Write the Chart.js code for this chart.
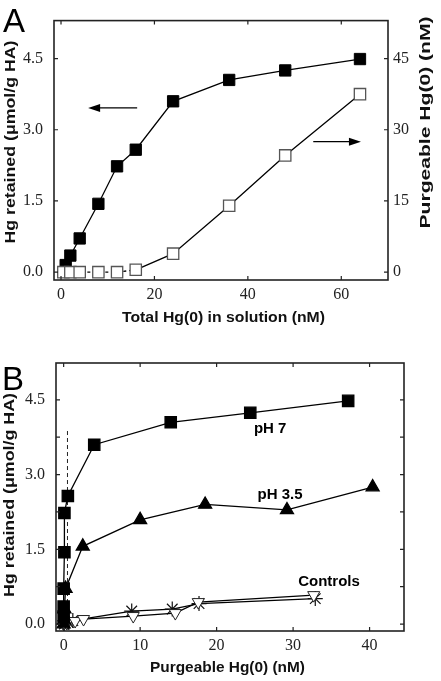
<!DOCTYPE html>
<html>
<head>
<meta charset="utf-8">
<script src="https://cdn.jsdelivr.net/npm/chart.js@4.4.1/dist/chart.umd.min.js"></script>
<style>
  body { margin: 0; background: #fff; }
  .panel { position: absolute; left: 0; width: 441px; }
  #panel-a { top: 0; height: 340px; }
  #panel-b { top: 340px; height: 341px; }
</style>
</head>
<body>
<div class="panel" id="panel-a"><canvas id="chart-a"></canvas></div>
<div class="panel" id="panel-b"><canvas id="chart-b"></canvas></div>
<script>
// --- Panel A data: Hg retained / purgeable vs total Hg(0) ---
const totalHgFilled = [1, 2, 4, 8, 12, 16, 24, 36, 48, 64];
const retainedA = [0.15, 0.35, 0.71, 1.44, 2.23, 2.58, 3.60, 4.05, 4.25, 4.49];
const totalHgOpen = [0.5, 2, 4, 8, 12, 16, 24, 36, 48, 64];
const purgeableA = [0, 0, 0, 0, 0, 0.5, 3.9, 14.0, 24.6, 37.5];

const xTicksA = [0, 20, 40, 60];
const yTicksA = [0, 1.5, 3.0, 4.5];
const y2TicksA = [0, 15, 30, 45];

// --- Panel B data: Hg retained vs purgeable Hg(0) ---
const purgePH7 = [0, 0, 0, 0.1, 0.1, 0.55, 4.0, 14.0, 24.4, 37.2];
const retainPH7 = [0.15, 0.35, 0.71, 1.44, 2.23, 2.57, 3.60, 4.05, 4.24, 4.48];
const purgePH35 = [0, 0.05, 0.1, 0.25, 2.5, 10.0, 18.5, 29.2, 40.4];
const retainPH35 = [0.0, 0.08, 0.3, 0.71, 1.56, 2.09, 2.40, 2.29, 2.75];
const purgeCtrlTri = [0, 0.4, 1.5, 2.6, 9.1, 14.6, 17.6, 32.7];
const retainCtrlTri = [0.0, 0.02, 0.06, 0.1, 0.16, 0.22, 0.44, 0.58];
const purgeCtrlStar = [0.1, 0.6, 1.2, 8.9, 14.2, 17.7, 32.9];
const retainCtrlStar = [0.0, 0.03, 0.07, 0.26, 0.30, 0.41, 0.51];
const detectionX = [0.5, 0.5];
const detectionY = [0, 3.9];

const xTicksB = [0, 10, 20, 30, 40];
const yTicksB = [0, 0.75, 1.5, 2.25, 3.0, 3.75, 4.5];

const pts = (xs, ys) => xs.map((x, i) => ({ x, y: ys[i] }));

const serif = "'Liberation Serif', 'Times New Roman', serif";
const sans = "'Liberation Sans', Arial, sans-serif";

// inward tick marks + frame around the plot area
const frameTicks = {
  id: 'frameTicks',
  afterDatasetsDraw(chart) {
    const { ctx, chartArea: a, scales } = chart;
    const len = 4;
    ctx.save();
    ctx.strokeStyle = '#222';
    ctx.lineWidth = 1.2;
    ctx.beginPath();
    scales.x.ticks.forEach(t => {
      const px = scales.x.getPixelForValue(t.value);
      ctx.moveTo(px, a.bottom); ctx.lineTo(px, a.bottom - len);
      ctx.moveTo(px, a.top); ctx.lineTo(px, a.top + len);
    });
    scales.y.ticks.forEach(t => {
      const py = scales.y.getPixelForValue(t.value);
      ctx.moveTo(a.left, py); ctx.lineTo(a.left + len, py);
      if (!scales.y2) { ctx.moveTo(a.right, py); ctx.lineTo(a.right - len, py); }
    });
    if (scales.y2) {
      scales.y2.ticks.forEach(t => {
        const py = scales.y2.getPixelForValue(t.value);
        ctx.moveTo(a.right, py); ctx.lineTo(a.right - len, py);
      });
    }
    ctx.stroke();
    ctx.lineWidth = 1.6;
    ctx.strokeRect(a.left, a.top, a.right - a.left, a.bottom - a.top);
    ctx.restore();
  }
};

// draw a title stretched to the width it has in the figure
function drawTitle(ctx, text, cx, cy, vertical, size, width) {
  ctx.save();
  ctx.font = `bold ${size}px ${sans}`;
  ctx.textAlign = 'center';
  ctx.textBaseline = 'middle';
  ctx.fillStyle = '#111';
  ctx.translate(cx, cy);
  if (vertical) ctx.rotate(-Math.PI / 2);
  const w = ctx.measureText(text).width;
  ctx.scale(width / w, 1);
  ctx.fillText(text, 0, 0);
  ctx.restore();
}

// panel letter, arrows, text labels, axis titles
const extras = {
  id: 'extras',
  afterDraw(chart, args, opts) {
    const { ctx, scales } = chart;
    ctx.save();
    ctx.fillStyle = '#000';
    ctx.font = `33px ${sans}`;
    ctx.textBaseline = 'top';
    ctx.textAlign = 'left';
    ctx.fillText(opts.letter, opts.letterPos[0], opts.letterPos[1]);

    (opts.arrows || []).forEach(ar => {
      const x0 = scales.x.getPixelForValue(ar.from);
      const x1 = scales.x.getPixelForValue(ar.to);
      const y = scales.y.getPixelForValue(ar.y);
      const dir = Math.sign(x1 - x0);
      ctx.strokeStyle = '#000';
      ctx.lineWidth = 1.2;
      ctx.beginPath();
      ctx.moveTo(x0, y); ctx.lineTo(x1 - dir * 10, y);
      ctx.stroke();
      ctx.beginPath();
      ctx.moveTo(x1, y);
      ctx.lineTo(x1 - dir * 12, y - 4);
      ctx.lineTo(x1 - dir * 12, y + 4);
      ctx.closePath();
      ctx.fill();
    });

    ctx.font = `bold 15px ${sans}`;
    ctx.textAlign = 'center';
    ctx.textBaseline = 'middle';
    (opts.labels || []).forEach(l => {
      ctx.fillText(l.text, scales.x.getPixelForValue(l.x), scales.y.getPixelForValue(l.y));
    });
    ctx.restore();

    (opts.titles || []).forEach(t => drawTitle(ctx, t.text, t.cx, t.cy, t.vertical, t.size, t.width));
  }
};

const tickFont = { family: serif, size: 16 };
const noGrid = { display: false, drawTicks: false };
const useTicks = arr => scale => { scale.ticks = arr.map(v => ({ value: v })); };

// --- Chart A ---
new Chart(document.getElementById('chart-a'), {
  type: 'line',
  data: {
    datasets: [{
      label: 'Purgeable Hg(0)',
      data: pts(totalHgOpen, purgeableA),
      yAxisID: 'y2',
      borderColor: '#000',
      borderWidth: 1.3,
      pointStyle: 'rect',
      pointRadius: 8,
      pointBorderWidth: 1.3,
      pointBorderColor: '#555',
      pointBackgroundColor: '#fff',
      segment: { borderDash: c => c.p1.parsed.x <= 16 ? [3, 3] : undefined },
      order: 0,
    }, {
      label: 'Hg retained',
      data: pts(totalHgFilled, retainedA),
      yAxisID: 'y',
      borderColor: '#000',
      borderWidth: 1.3,
      pointStyle: 'rect',
      pointRadius: 8,
      pointBorderWidth: 1,
      pointBorderColor: '#000',
      pointBackgroundColor: '#000',
      order: 1,
    }],
  },
  options: {
    responsive: true,
    maintainAspectRatio: false,
    animation: false,
    layout: { padding: { top: 5, left: 0, right: 0, bottom: 0 } },
    plugins: {
      legend: { display: false },
      tooltip: { enabled: false },
      extras: {
        letter: 'A', letterPos: [3, 6],
        arrows: [{ from: 16.3, to: 5.8, y: 3.46 }, { from: 54, to: 64.2, y: 2.75 }],
        titles: [
          { text: 'Total Hg(0) in solution (nM)', cx: 223.5, cy: 317.5, vertical: false, size: 15, width: 203 },
          { text: 'Hg retained (\u03bcmol/g HA)', cx: 11, cy: 142, vertical: true, size: 14, width: 203 },
          { text: 'Purgeable Hg(0) (nM)', cx: 426, cy: 122.5, vertical: true, size: 14, width: 212 },
        ],
      },
    },
    scales: {
      x: {
        type: 'linear', min: -1.5, max: 70,
        afterBuildTicks: useTicks(xTicksA),
        afterFit: s => { s.height = 60; },
        grid: noGrid, border: { display: false },
        ticks: { font: tickFont, color: '#222', padding: 5, maxRotation: 0 },
      },
      y: {
        type: 'linear', position: 'left', min: -0.165, max: 5.3,
        afterBuildTicks: useTicks(yTicksA),
        afterFit: s => { s.width = 54; },
        grid: noGrid, border: { display: false },
        ticks: { font: tickFont, color: '#222', padding: 11, callback: v => v.toFixed(1) },
      },
      y2: {
        type: 'linear', position: 'right', min: -1.65, max: 53,
        afterBuildTicks: useTicks(y2TicksA),
        afterFit: s => { s.width = 53; },
        grid: noGrid, border: { display: false },
        ticks: { font: tickFont, color: '#222', padding: 5, callback: v => String(v) },
      },
    },
  },
  plugins: [frameTicks, extras],
});

// --- Chart B ---
new Chart(document.getElementById('chart-b'), {
  type: 'line',
  data: {
    datasets: [{
      label: 'pH 7',
      data: pts(purgePH7, retainPH7),
      borderColor: '#000', borderWidth: 1.3,
      pointStyle: 'rect', pointRadius: 8,
      pointBackgroundColor: '#000', pointBorderColor: '#000',
    }, {
      label: 'pH 3.5',
      data: pts(purgePH35, retainPH35),
      borderColor: '#000', borderWidth: 1.3,
      pointStyle: 'triangle', pointRadius: 7.5,
      pointBackgroundColor: '#000', pointBorderColor: '#000',
    }, {
      label: 'Control (triangles)',
      data: pts(purgeCtrlTri, retainCtrlTri),
      borderColor: '#000', borderWidth: 1.2,
      pointStyle: 'triangle', pointRotation: 180, pointRadius: 7,
      pointBackgroundColor: '#fff', pointBorderColor: '#222', pointBorderWidth: 1,
    }, {
      label: 'Control (stars)',
      data: pts(purgeCtrlStar, retainCtrlStar),
      borderColor: '#000', borderWidth: 1.2,
      pointStyle: 'star', pointRadius: 7.5,
      pointBackgroundColor: '#000', pointBorderColor: '#111', pointBorderWidth: 1.2,
    }, {
      label: 'Detection',
      data: pts(detectionX, detectionY),
      borderColor: '#222', borderWidth: 1, borderDash: [4, 3],
      pointRadius: 0,
      order: 10,
    }],
  },
  options: {
    responsive: true,
    maintainAspectRatio: false,
    animation: false,
    layout: { padding: { top: 23, left: 0, right: 37, bottom: 0 } },
    plugins: {
      legend: { display: false },
      tooltip: { enabled: false },
      extras: {
        letter: 'B', letterPos: [2, 24],
        labels: [
          { text: 'pH 7', x: 27.0, y: 3.92 },
          { text: 'pH 3.5', x: 28.3, y: 2.59 },
          { text: 'Controls', x: 34.7, y: 0.85 },
        ],
        titles: [
          { text: 'Purgeable Hg(0) (nM)', cx: 227.5, cy: 328, vertical: false, size: 15, width: 155 },
          { text: 'Hg retained (\u03bcmol/g HA)', cx: 10, cy: 155, vertical: true, size: 14, width: 204 },
        ],
      },
    },
    scales: {
      x: {
        type: 'linear', min: -1, max: 44.5,
        afterBuildTicks: useTicks(xTicksB),
        afterFit: s => { s.height = 50; },
        grid: noGrid, border: { display: false },
        ticks: { font: tickFont, color: '#222', padding: 5, maxRotation: 0 },
      },
      y: {
        type: 'linear', position: 'left', min: -0.14, max: 5.24,
        afterBuildTicks: useTicks(yTicksB),
        afterFit: s => { s.width = 56; },
        grid: noGrid, border: { display: false },
        ticks: { font: tickFont, color: '#222', padding: 11,
          callback: v => (Math.abs(v / 1.5 - Math.round(v / 1.5)) < 1e-6 ? v.toFixed(1) : '') },
      },
    },
  },
  plugins: [frameTicks, extras],
});
</script>
</body>
</html>
